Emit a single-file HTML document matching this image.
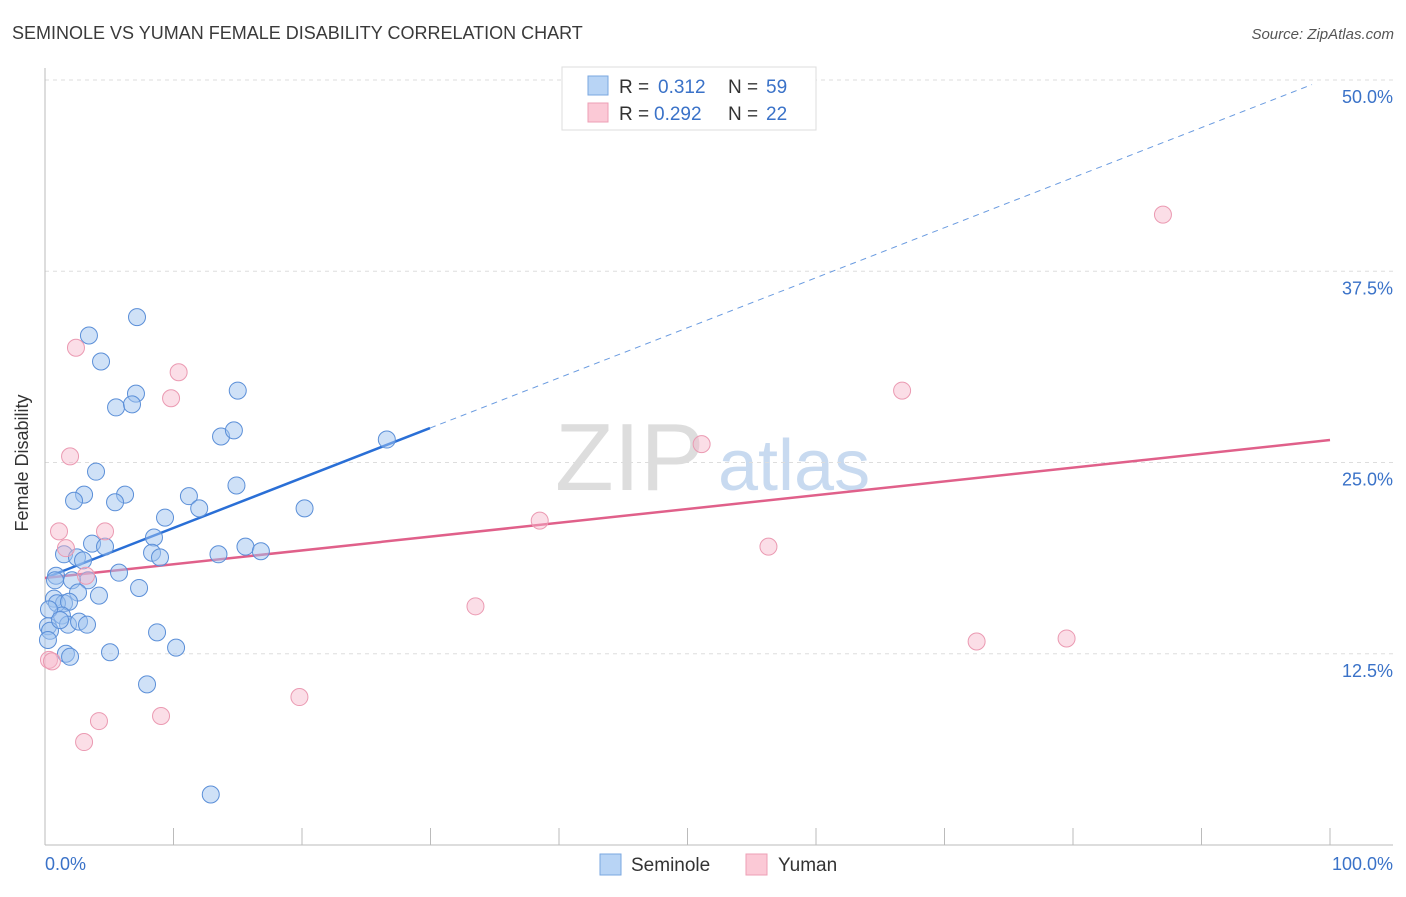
<!DOCTYPE html>
<html><head><meta charset="utf-8"><style>
body{margin:0;background:#fff;font-family:"Liberation Sans",sans-serif}
svg text{font-family:"Liberation Sans",sans-serif}
</style></head><body>
<svg width="1406" height="892" xmlns="http://www.w3.org/2000/svg">
<text x="12" y="39" font-size="18" fill="#3a3a3a">SEMINOLE VS YUMAN FEMALE DISABILITY CORRELATION CHART</text>
<text x="1394" y="39" font-size="15" fill="#555" font-style="italic" text-anchor="end">Source: ZipAtlas.com</text>
<text x="555" y="490" font-size="96" fill="#ddd" font-family="Liberation Serif">ZIP</text>
<text x="718" y="490" font-size="72" fill="#c8daf0">atlas</text>
<g id="grid"></g>
<line x1="45" y1="68" x2="45" y2="845" stroke="#bbb"/>
<line x1="45" y1="845" x2="1393" y2="845" stroke="#bbb"/>
<g id="ticks"></g>
<text x="20" y="455" font-size="18" fill="#333" transform="rotate(-90 28 455)" text-anchor="middle">Female Disability</text>
<text x="45" y="870" font-size="18" fill="#3a72c8">0.0%</text>
<text x="1393" y="870" font-size="18" fill="#3a72c8" text-anchor="end">100.0%</text>
<g id="lines"></g>
<g id="points"></g>
<g>
<rect x="562" y="67" width="254" height="63" fill="#fff" stroke="#ddd"/>
<rect x="588" y="76" width="20" height="19" fill="#b8d4f5" stroke="#7aa7e0"/>
<rect x="588" y="103" width="20" height="19" fill="#fbc9d6" stroke="#ee9fb5"/>
<text x="619" y="93" font-size="19" fill="#333">R =</text>
<text x="658" y="93" font-size="19" fill="#3a72c8">0.312</text>
<text x="728" y="93" font-size="19" fill="#333">N =</text>
<text x="766" y="93" font-size="19" fill="#3a72c8">59</text>
<text x="619" y="120" font-size="19" fill="#333">R =</text>
<text x="654" y="120" font-size="19" fill="#3a72c8">0.292</text>
<text x="728" y="120" font-size="19" fill="#333">N =</text>
<text x="766" y="120" font-size="19" fill="#3a72c8">22</text>
</g>
<g>
<rect x="600" y="854" width="21" height="21" fill="#b8d4f5" stroke="#7aa7e0"/>
<text x="631" y="871" font-size="19" fill="#333">Seminole</text>
<rect x="746" y="854" width="21" height="21" fill="#fbc9d6" stroke="#ee9fb5"/>
<text x="778" y="871" font-size="19" fill="#333">Yuman</text>
</g>
</svg>
<script>
const yTicks=[12.5,25,37.5,50];
const yTickLabels=["12.5%","25.0%","37.5%","50.0%"];
const xTicks=[0,10,20,30,40,50,60,70,80,90,100];
const blueX=[7.16,3.42,4.36,7.08,15.0,5.53,6.77,13.7,14.7,26.6,3.97,3.04,2.26,6.23,5.45,11.2,14.9,12.0,20.2,9.34,8.48,3.66,4.67,1.48,2.49,2.96,8.33,8.95,13.5,15.6,16.8,0.86,0.78,5.76,3.35,7.32,2.1,0.7,2.57,4.2,1.48,0.93,1.87,1.32,0.31,1.79,2.65,3.27,8.72,0.23,0.39,10.2,5.06,1.63,1.95,7.94,12.9,0.23,1.17];
const blueY=[34.5,33.3,31.6,29.5,29.7,28.6,28.8,26.7,27.1,26.5,24.4,22.9,22.5,22.9,22.4,22.8,23.5,22.0,22.0,21.4,20.1,19.7,19.5,19.0,18.8,18.6,19.1,18.8,19.0,19.5,19.2,17.6,17.3,17.8,17.3,16.8,17.3,16.1,16.5,16.3,15.8,15.8,15.9,15.0,15.4,14.4,14.6,14.4,13.9,14.3,14.0,12.9,12.6,12.5,12.3,10.5,3.3,13.4,14.7];
const pinkX=[2.41,10.4,9.81,1.95,1.09,4.67,1.63,3.19,51.1,38.5,56.3,87.0,66.7,33.5,72.5,79.5,19.8,4.2,9.03,3.04,0.31,0.54];
const pinkY=[32.5,30.9,29.2,25.4,20.5,20.5,19.4,17.6,26.2,21.2,19.5,41.2,29.7,15.6,13.3,13.5,9.67,8.1,8.43,6.73,12.1,12.0];
const blueTrend=[17.45,27.25];const blueTrendX=[0.2,29.96,98.6];
const pinkTrend=[17.45,26.47];
const NS="http://www.w3.org/2000/svg";
const X=v=>45+v*12.85, Y=v=>845-v*15.3;
function mk(t,a,p){const e=document.createElementNS(NS,t);for(const k in a)e.setAttribute(k,a[k]);document.getElementById(p).appendChild(e);return e;}
yTicks.forEach((t,i)=>{
 const g=mk('line',{x1:45,x2:1393,y1:Y(t),y2:Y(t),stroke:'#ddd','stroke-dasharray':'4,4'},'grid');
 
 
 const tx=mk('text',{x:1393,y:Y(t)+23,'font-size':18,fill:'#3a72c8','text-anchor':'end'},'grid');
 tx.textContent=yTickLabels[i];
 
 
});
xTicks.forEach(t=>{
 const l=mk('line',{x1:X(t),x2:X(t),y1:828,y2:845,stroke:'#bbb'},'ticks');
 
 
});
const slope=(blueTrend[1]-blueTrend[0])/blueTrendX[1];
let bl=mk('line',{x1:X(0.2),y1:Y(blueTrend[0]+slope*0.2),x2:X(blueTrendX[1]),y2:Y(blueTrend[1]),stroke:'#2a6fd6','stroke-width':2.5},'lines');


let bd=mk('line',{x1:X(blueTrendX[1]),y1:Y(blueTrend[1]),x2:X(blueTrendX[2]),y2:Y(blueTrend[0]+slope*blueTrendX[2]),stroke:'#6a9be0','stroke-width':1,'stroke-dasharray':'6,5'},'lines');


let pl=mk('line',{x1:X(0),y1:Y(pinkTrend[0]),x2:X(100),y2:Y(pinkTrend[1]),stroke:'#e0608a','stroke-width':2.5},'lines');


blueX.forEach((v,i)=>{
 const c=mk('circle',{cx:X(v),cy:Y(blueY[i]),r:8.5,fill:'rgba(160,196,240,0.5)',stroke:'#5b8fd8','stroke-width':1},'points');
 
 
});
pinkX.forEach((v,i)=>{
 const c=mk('circle',{cx:X(v),cy:Y(pinkY[i]),r:8.5,fill:'rgba(246,182,202,0.45)',stroke:'#eb9ab2','stroke-width':1},'points');
 
 
});
</script>
</body></html>
